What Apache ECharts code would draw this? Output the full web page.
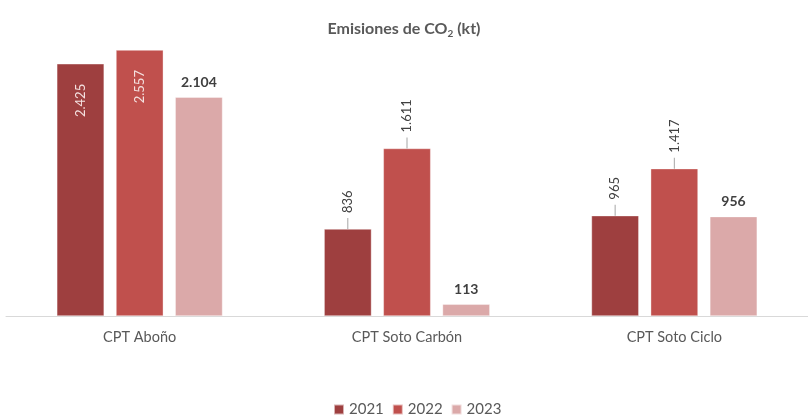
<!DOCTYPE html>
<html>
<head>
<meta charset="utf-8">
<script src="https://cdn.jsdelivr.net/npm/echarts@6/dist/echarts.min.js"></script>
<style>
  html, body { margin: 0; padding: 0; background: #fff; }
  #chart { width: 808px; height: 416px; }
</style>
</head>
<body>
<div id="chart"></div>
<script>
var categories = ['CPT Abo\u00f1o', 'CPT Soto Carb\u00f3n', 'CPT Soto Ciclo'];
var years = ['2021', '2022', '2023'];
var values2021 = [2425, 836, 965];
var values2022 = [2557, 1611, 1417];
var values2023 = [2104, 113, 956];

var colors = ['#9e3f3f', '#c0504d', '#dba9a9'];
var FONT = 'Lato, "Open Sans", sans-serif';

// formato con separador de miles "."
function fmt (v) {
  return String(v).replace(/\B(?=(\d{3})+(?!\d))/g, '.');
}

// barras 2021/2022: etiqueta girada, dentro si la barra es alta,
// fuera con una pequeña línea guía (segmento rich)
function rotatedData (vals) {
  return vals.map(function (v) {
    var inside = v > 2000;
    return {
      value: v,
      label: {
        position: inside ? 'insideTop' : 'top',
        distance: inside ? 20 : 0,
        align: inside ? 'right' : 'left',
        verticalAlign: 'middle',
        color: inside ? '#f4e1e0' : '#404040',
        formatter: inside ? fmt(v) : '{line|}{gap|}' + fmt(v)
      }
    }
  })
}

function rotatedSeries (name, vals, color) {
  return {
    name: name,
    type: 'bar',
    data: rotatedData(vals),
    itemStyle: { color: color, borderColor: 'rgba(255,255,255,0.6)', borderWidth: 0.6 },
    label: {
      show: true,
      rotate: 90,
      fontFamily: FONT,
      fontSize: 13,
      rich: {
        line: { width: 11, height: 1, backgroundColor: '#a6a6a6' },
        gap: { width: 5 }
      }
    }
  }
}

var chart = echarts.init(document.getElementById('chart'));
var option = {
  animation: false,
  color: colors,
  title: {
    text: 'Emisiones de CO{sub|2} (kt)',
    left: 'center',
    top: 14,
    textStyle: {
      fontFamily: FONT, fontSize: 16, fontWeight: 'bold', color: '#595959',
      rich: {
        sub: { fontFamily: FONT, fontSize: 10, fontWeight: 'bold', color: '#595959', padding: [10, 0, 0, 0] }
      }
    }
  },
  legend: {
    data: years,
    bottom: -6,
    left: 328,
    itemWidth: 10,
    itemHeight: 10,
    itemGap: 8,
    icon: 'rect',
    textStyle: { fontFamily: FONT, fontSize: 15, color: '#595959' }
  },
  grid: { left: 6, width: 810, top: 4, bottom: 100, containLabel: false },
  xAxis: {
    type: 'category',
    data: categories,
    axisLine: { lineStyle: { color: '#d9d9d9', width: 1 } },
    axisTick: { show: false },
    axisLabel: { fontFamily: FONT, fontSize: 14.5, color: '#595959', margin: 14 }
  },
  yAxis: {
    type: 'value',
    min: 0,
    max: 3000,
    show: false,
    splitLine: { show: false }
  },
  series: [
    Object.assign(rotatedSeries(years[0], values2021, colors[0]), { barGap: '25%', barCategoryGap: '38%' }),
    rotatedSeries(years[1], values2022, colors[1]),
    {
      name: years[2],
      type: 'bar',
      data: values2023,
      itemStyle: { color: colors[2], borderColor: 'rgba(255,255,255,0.6)', borderWidth: 0.6 },
      label: {
        show: true,
        position: 'top',
        distance: 8,
        fontFamily: FONT,
        fontSize: 14,
        fontWeight: 'bold',
        color: '#404040',
        formatter: function (p) { return fmt(p.value) }
      }
    }
  ]
};
chart.setOption(option);
window.addEventListener('resize', function () { chart.resize() });
</script>
</body>
</html>
